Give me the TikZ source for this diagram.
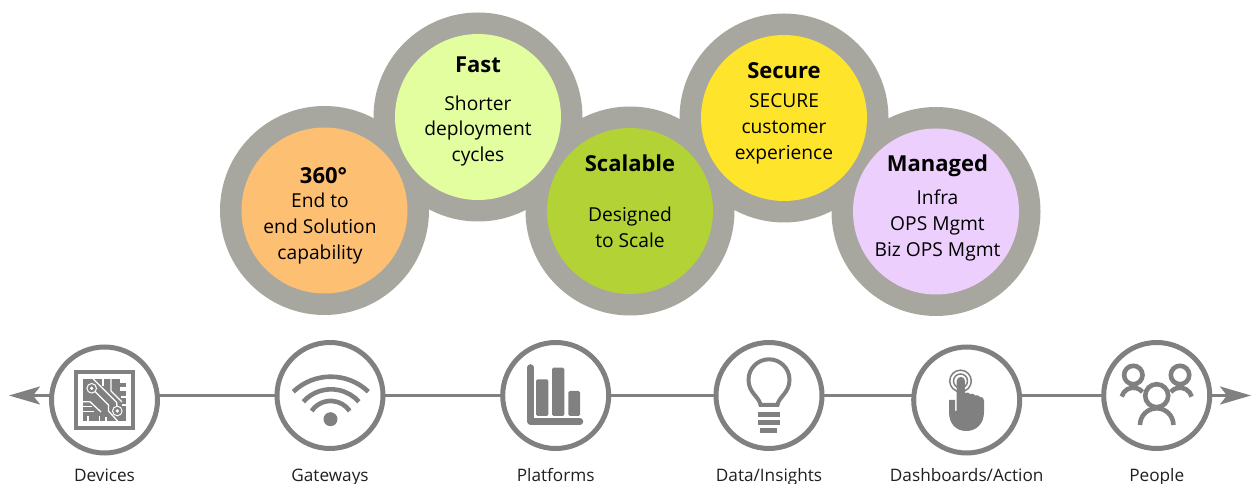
\documentclass[tikz,border=0pt]{standalone}
\usepackage{fontspec}
\setmainfont{Open Sans}
\usetikzlibrary{arrows.meta}
\definecolor{ringgray}{HTML}{A8A79F}
\definecolor{icongray}{HTML}{808080}
\definecolor{cOrange}{HTML}{FDBF71}
\definecolor{cLime}{HTML}{E2FE9F}
\definecolor{cGreen}{HTML}{B2D235}
\definecolor{cYellow}{HTML}{FEE42B}
\definecolor{cPurple}{HTML}{ECCFFD}
\newcommand{\firstline}{\rule{0pt}{20pt}}
\newcommand{\head}[1]{{\fontsize{22pt}{26pt}\selectfont\bfseries #1}}
\tikzset{
  ringdisc/.style={circle,fill=ringgray,draw=none,minimum size=209pt,inner sep=0pt,outer sep=0pt},
  innerdisc/.style={circle,draw=none,minimum size=166pt,inner sep=0pt,outer sep=0pt},
  bodytext/.style={anchor=north,align=center,inner sep=0pt,outer sep=0pt,text=black,
     font=\fontsize{19.2pt}{26pt}\selectfont},
  iconcircle/.style={circle,draw=icongray,line width=5pt,fill=white,minimum size=106pt,inner sep=0pt,outer sep=0pt},
  caption/.style={anchor=base,inner sep=0pt,text=black!88,font=\fontsize{17.2pt}{20pt}\selectfont},
  axisline/.style={draw=icongray,line width=3pt},
  ic/.style={fill=icongray,draw=none},
  icl/.style={draw=icongray,fill=none},
  cutw/.style={draw=white,line width=1.3pt}
}
\begin{document}
\begin{tikzpicture}[x=1pt,y=1pt]
\useasboundingbox (0,0) rectangle (1252,484);
\begin{scope}[shift={(0,484)},yscale=-1]
% grey rings
\node[ringdisc] (r360) at (324.5,210.5) {};
\node[ringdisc] (rfast) at (478,117) {};
\node[ringdisc] (rscal) at (630,211) {};
\node[ringdisc] (rsec) at (784,118) {};
\node[ringdisc] (rman) at (936,211.5) {};
% inner discs
\node[innerdisc,fill=cOrange] (d360) at (324.5,210.5) {};
\node[innerdisc,fill=cLime] (dfast) at (478,117) {};
\node[innerdisc,fill=cGreen] (dscal) at (630,211) {};
\node[innerdisc,fill=cYellow] (dsec) at (784,118) {};
\node[innerdisc,fill=cPurple] (dman) at (936,211.5) {};
% texts
\node[bodytext] (t360) at (320,163.4) {\firstline\hspace*{7pt}\head{360°}\\[-1.6pt]End to\\end Solution\\capability};
\node[bodytext] (tfast) at (478,52.4) {\firstline\head{Fast}\\[12pt]Shorter\\[-0.4pt]deployment\\[-0.4pt]cycles};
\node[bodytext] (tscal) at (630,151.4) {\firstline\head{Scalable}\\[24pt]Designed\\to Scale};
\node[bodytext] (tsec) at (784,59) {\firstline\head{Secure}\\[2.4pt]SECURE\\customer\\experience};
\node[bodytext] (tman) at (937.5,151.4) {\firstline\head{Managed}\\[7.3pt]Infra\\OPS Mgmt\\Biz OPS Mgmt};
% axis
\coordinate (leftEnd) at (9,395.5);
\coordinate (rightEnd) at (1251,395.5);
\node[iconcircle] (devices) at (104.5,400) {};
\node[iconcircle] (gateways) at (330,395.5) {};
\node[iconcircle] (platforms) at (555.7,395.5) {};
\node[iconcircle] (data) at (769,395.5) {};
\node[iconcircle] (dash) at (966.7,400) {};
\node[iconcircle] (people) at (1156.7,395.5) {};
\draw[axisline,-{Stealth[length=31pt,width=18pt,inset=7pt]}] (devices.west |- leftEnd) -- (leftEnd);
\draw[axisline] (devices.east |- gateways.west) -- (gateways.west);
\draw[axisline] (gateways.east) -- (platforms.west);
\draw[axisline] (platforms.east) -- (data.west);
\draw[axisline] (data.east) -- (dash.west |- data.east);
\draw[axisline] (dash.east |- people.west) -- (people.west);
\draw[axisline,-{Stealth[length=31pt,width=18pt,inset=7pt]}] (people.east) -- (rightEnd);
% captions
\node[caption] (lDevices) at (104.5,481.2) {Devices};
\node[caption] (lGateways) at (330,481.2) {Gateways};
\node[caption] (lPlatforms) at (555.7,481.2) {Platforms};
\node[caption] (lData) at (769,481.2) {Data/Insights};
\node[caption] (lDash) at (966.7,481.2) {Dashboards/Action};
\node[caption] (lPeople) at (1156.7,481.2) {People};
% device icon
\draw[icl,line width=3.6pt] (75.8,371.8) rectangle (133.2,428.2);
\fill[ic] (83,379) rectangle (126,421.5);
\draw[cutw] (93.3,379) -- (116.7,402.4) -- (117.3,411);
\draw[cutw] (91.7,388.3) -- (108.5,405) -- (108.5,411) -- (118,421.5);
\draw[cutw] (103,379) -- (103,386);
\draw[cutw] (111,379) -- (111,391) -- (122,402);
\draw[cutw] (83,401.7) -- (90,401.7) -- (101,412);
\draw[cutw] (83,406.7) -- (92,406.7);
\draw[cutw] (83,411.7) -- (94,411.7);
\draw[cutw] (88,421.5) -- (88,416);
\draw[cutw] (99.5,421.5) -- (99.5,416);
\draw[cutw] (106,421.5) -- (106,417);
\draw[cutw] (126,397) -- (121,397);
\draw[cutw] (126,405) -- (122,405);
\fill[white] (120,379) rectangle (126,383);
\fill[white] (120,387) rectangle (126,391);
\fill[ic] (91.7,388.3) circle (4.3);
\fill[white] (91.7,388.3) circle (1.8);
\draw[draw=white,line width=1pt] (91.7,388.3) circle (4.8);
\fill[ic] (117.3,411) circle (4.3);
\fill[white] (117.3,411) circle (1.8);
\draw[draw=white,line width=1pt] (117.3,411) circle (4.8);
% wifi icon
\draw[icl,line width=4.6pt] (293.3,391.7) arc (-133.6:-46.4:54.4);
\draw[icl,line width=4.6pt] (303.3,401.7) arc (-138:-42:37.4);
\draw[icl,line width=4.6pt] (311.7,411) arc (-145.7:-34.3:23);
\fill[ic] (330.5,419.2) circle (7);
% bars icon
\draw[icl,line width=6.5pt,line cap=round,line join=round] (530.6,367.5) -- (530.6,421.4) -- (580,421.4);
\fill[ic,rounded corners=1.5pt] (536,379.3) rectangle (548.3,416);
\fill[ic,rounded corners=1.5pt] (552,367.7) rectangle (564.3,416);
\fill[ic,rounded corners=1.5pt] (568.3,391) rectangle (580,416);
% bulb icon
\draw[icl,line width=4pt] (760.5,405) .. controls (759.5,397) and (748.5,393) .. (748.5,379.8)
   arc (-180:0:20.5) .. controls (789.5,393) and (778.5,397) .. (777.5,405) -- cycle;
\fill[ic] (757.7,411.7) rectangle (780,416.7);
\fill[ic] (757.7,420) rectangle (780,425);
\fill[ic] (760,427.7) rectangle (777.3,432.7);
% hand icon
\draw[icl,line width=1.5pt] (960.5,381) circle (10.8);
\draw[icl,line width=1.5pt] (960.5,381) circle (7);
\fill[ic] (956.7,381) arc (-180:0:4.15) -- (964.9,393)
  .. controls (967,392) and (969,392.5) .. (970,394)
  .. controls (972,393.5) and (974,393.5) .. (975,395.3)
  .. controls (977,395) and (979,395) .. (980,397)
  .. controls (982,396.5) and (984,398) .. (984,400.5)
  -- (984,412) .. controls (984,424) and (976,431) .. (966.5,431)
  .. controls (956,431) and (949,424) .. (949,412) -- (949,400) -- (955,400) -- (955,411) -- (956.7,411) -- cycle;
% people icon
\draw[icl,line width=4.6pt] (1133.3,375) circle (9.2);
\draw[icl,line width=4.6pt] (1180,375) circle (9.2);
\draw[icl,line width=4.6pt] (1156.7,395.7) circle (11.5);
\draw[icl,line width=4.6pt] (1121.7,396.6) arc (-165:-40:12);
\draw[icl,line width=4.6pt] (1191.6,396.6) arc (-15:-140:12);
\draw[icl,line width=4.6pt] (1140,425) arc (-180:0:16.7);
\end{scope}
\end{tikzpicture}
\end{document}
